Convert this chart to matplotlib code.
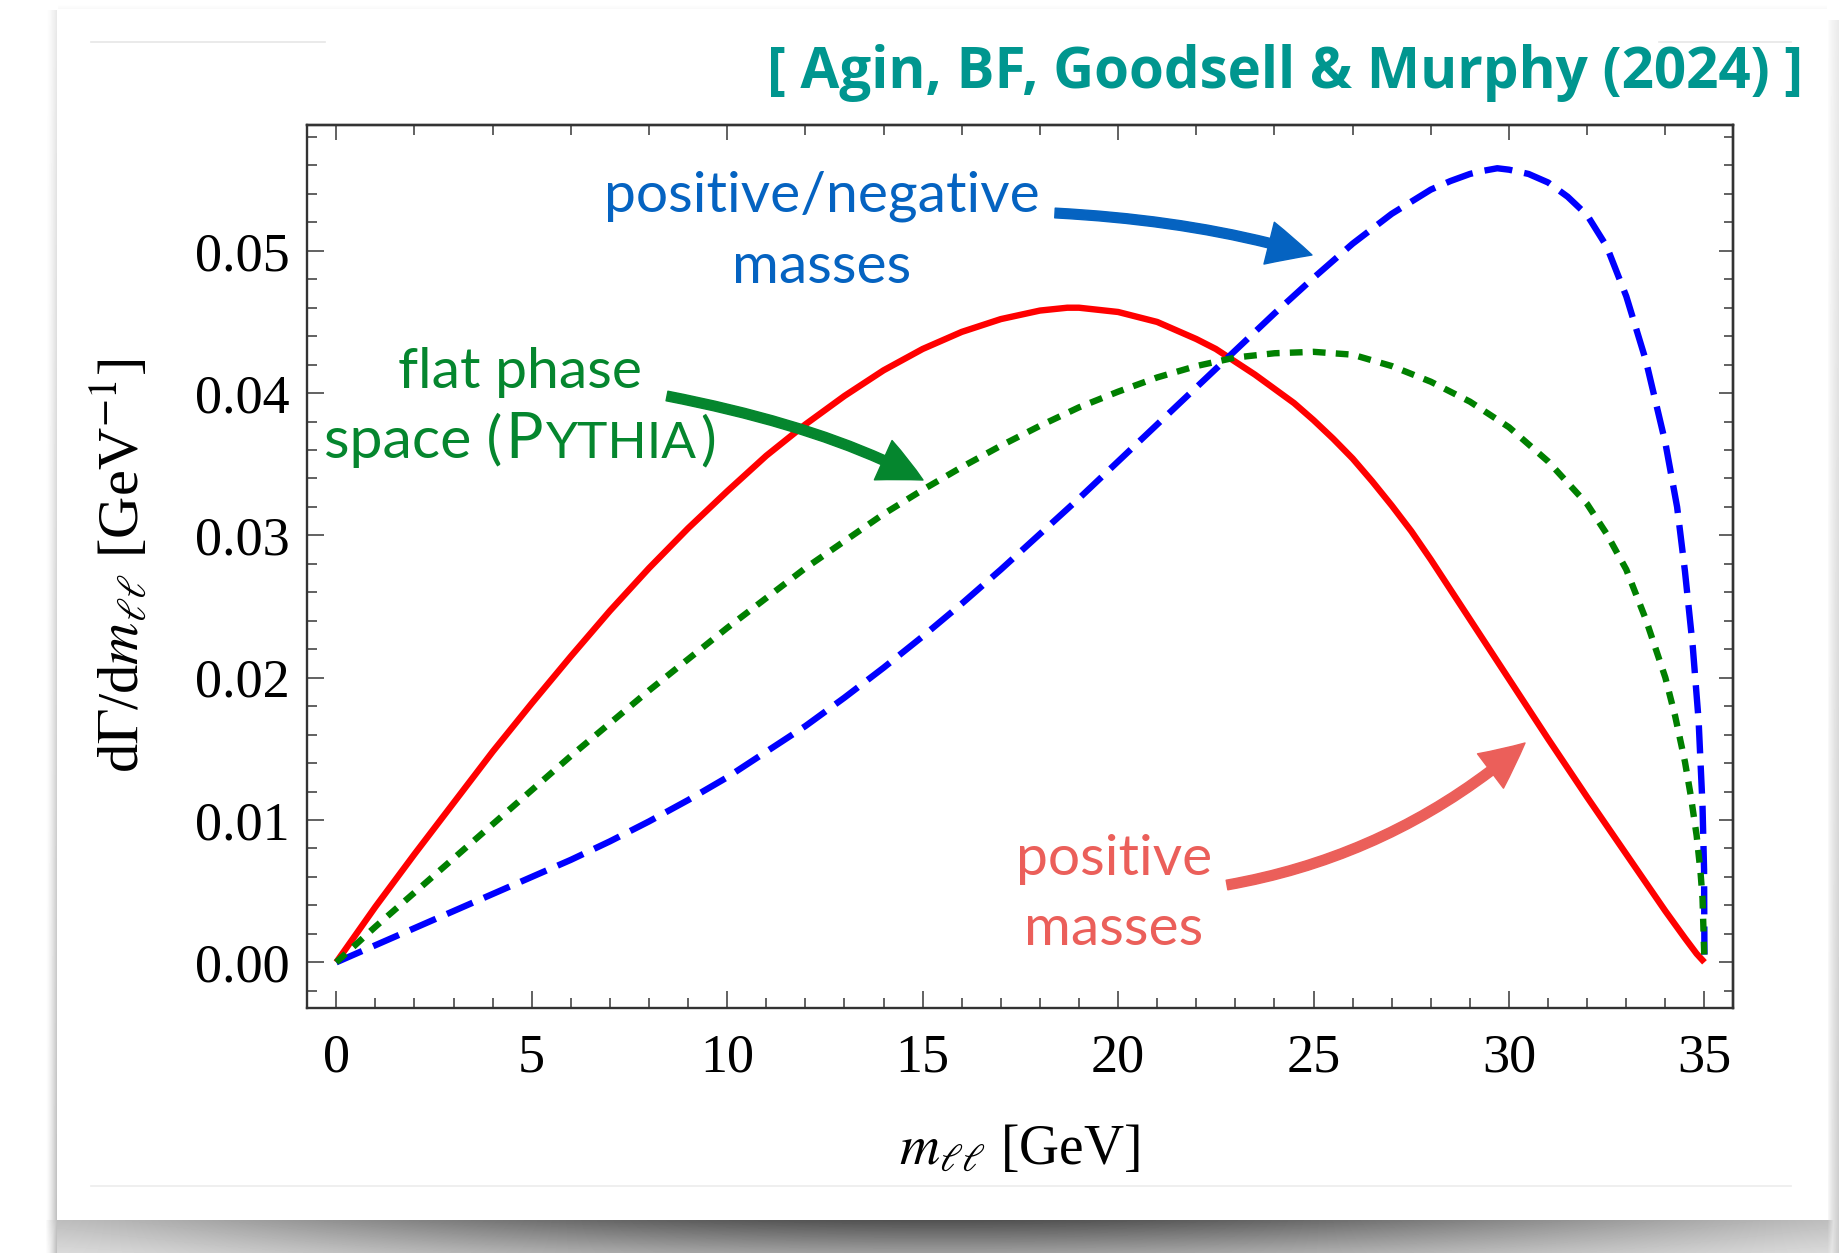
import numpy as np
import matplotlib
matplotlib.use("Agg")
import matplotlib.pyplot as plt
from matplotlib.ticker import FixedLocator, MultipleLocator, FormatStrFormatter, NullFormatter
from matplotlib.patches import FancyArrowPatch, ArrowStyle

# ---------------------------------------------------------------------------
# Dilepton invariant-mass spectra dGamma/dm_ll  [GeV^-1]
# ---------------------------------------------------------------------------
# positive masses (solid red)
m_pos = [0, 1, 2, 3, 4, 5, 6, 7, 8, 9, 10, 11, 12, 13, 14, 15, 16, 17, 18,
         18.7, 19, 20, 21, 22, 22.5, 23, 23.5, 24, 24.5, 25, 25.5, 26, 26.5,
         27, 27.5, 28, 28.5, 29, 29.5, 30, 31, 32, 33, 33.5, 34, 34.5, 34.8, 35]
dgamma_pos = [0.0, 0.0039, 0.0076, 0.0112, 0.0148, 0.0182, 0.0215, 0.0247,
              0.0277, 0.0305, 0.0331, 0.0356, 0.0378, 0.0398, 0.0416, 0.0431,
              0.0443, 0.0452, 0.0458, 0.0460, 0.0460, 0.0457, 0.0450, 0.0438,
              0.0431, 0.0422, 0.0413, 0.0403, 0.0393, 0.0381, 0.0368, 0.0354,
              0.0338, 0.0321, 0.0303, 0.0283, 0.0262, 0.0241, 0.0220, 0.0199,
              0.0157, 0.0116, 0.0076, 0.0056, 0.0036, 0.0017, 0.0006, 0.0]

# flat phase space, PYTHIA (dotted green)
m_flat = [0, 1, 2, 3, 4, 5, 6, 7, 8, 9, 10, 11, 12, 13, 14, 15, 16, 17, 18, 19,
          20, 21, 22, 23, 24, 25, 26, 27, 28, 29, 30, 31, 32, 32.5, 33, 33.5,
          34, 34.25, 34.5, 34.65, 34.8, 34.9, 34.95, 35]
dgamma_flat = [0.0, 0.0025, 0.0049, 0.0073, 0.0097, 0.0121, 0.0145, 0.0168,
               0.0191, 0.0213, 0.0235, 0.0256, 0.0277, 0.0296, 0.0315, 0.0332,
               0.0348, 0.0363, 0.0377, 0.0390, 0.0401, 0.0411, 0.0419, 0.0425,
               0.0428, 0.0429, 0.0427, 0.0419, 0.0408, 0.0394, 0.0376, 0.0352,
               0.0322, 0.0301, 0.0276, 0.0241, 0.0200, 0.0173, 0.0141, 0.0117,
               0.0089, 0.0063, 0.0045, 0.0]

# positive/negative masses (dashed blue)
m_posneg = [0, 1, 2, 3, 4, 5, 6, 7, 8, 9, 10, 11, 12, 13, 14, 15, 16, 17, 18,
            19, 20, 21, 22, 23, 24, 25, 26, 27, 28, 28.5, 29, 29.3, 29.7, 30,
            30.5, 31, 31.5, 32, 32.5, 33, 33.5, 34, 34.3, 34.5, 34.7, 34.85,
            34.95, 34.99, 35]
dgamma_posneg = [0.0, 0.0012, 0.0024, 0.0036, 0.0048, 0.0060, 0.0072, 0.0085,
                 0.0099, 0.0114, 0.0130, 0.0148, 0.0166, 0.0186, 0.0207, 0.0229,
                 0.0252, 0.0276, 0.0301, 0.0326, 0.0352, 0.0378, 0.0404, 0.0430,
                 0.0456, 0.0481, 0.0505, 0.0526, 0.0543, 0.0549, 0.0554, 0.0556,
                 0.0558, 0.0557, 0.0554, 0.0548, 0.0538, 0.0525, 0.0503, 0.0468,
                 0.0423, 0.0365, 0.0320, 0.0275, 0.0222, 0.0170, 0.0110, 0.0065,
                 0.0]

x_ticks = [0, 5, 10, 15, 20, 25, 30, 35]
y_ticks = [0.00, 0.01, 0.02, 0.03, 0.04, 0.05]
x_ticks_top = [0, 10, 20, 30]

W, H = 1840, 1253
plt.rcParams['font.family'] = ['Liberation Serif', 'DejaVu Serif']
plt.rcParams['mathtext.fontset'] = 'stix'

fig = plt.figure(figsize=(W / 100, H / 100), dpi=100)
fig.patch.set_facecolor('white')


def fx(x):
    return x / W


def fy(y):
    return 1 - y / H


# ---------------------------------------------------------------------------
# slide card with soft drop shadow
# ---------------------------------------------------------------------------
bg = fig.add_axes([0, 0, 1, 1], zorder=-10)
bg.set_axis_off()
yy, xx = np.mgrid[0:H, 0:W].astype(float)
card_l, card_r, card_t, card_b = 57, 1827, 9, 1220
dark = np.zeros((H, W))

u = np.clip((xx - card_l) / (card_r - card_l), 0, 1)
t = np.clip((yy - card_b) / (H - card_b), 0, 1)
amp = 0.26 + 0.42 * np.sin(np.pi * u) ** 1.2
edge_fade = np.clip((xx - (card_l - 12)) / 12, 0, 1) * np.clip(((card_r + 12) - xx) / 12, 0, 1)
bottom = (yy >= card_b) * amp * (1 - 0.45 * t) * edge_fade
dark = np.maximum(dark, bottom)

left_band = (xx >= card_l - 12) & (xx < card_l) & (yy > card_t)
left_val = 0.28 * ((xx - (card_l - 12)) / 12) ** 1.5 * (0.35 + 0.65 * yy / H)
dark = np.where(left_band, np.maximum(dark, left_val), dark)

right_band = (xx > card_r) & (yy > card_t + 10)
right_val = 0.22 * np.clip((xx - card_r) / 13, 0, 1) ** 0.7 * (0.4 + 0.6 * yy / H)
dark = np.where(right_band, np.maximum(dark, right_val), dark)

top_band = (yy < card_t) & (yy >= card_t - 5) & (xx > card_l) & (xx < card_r)
dark = np.where(top_band, np.maximum(dark, 0.03 * (yy - (card_t - 5)) / 5), dark)

bg.imshow(1 - dark, cmap='gray', vmin=0, vmax=1, extent=[0, W, H, 0],
          aspect='auto', interpolation='bilinear')
bg.plot([91, 325], [42, 42], color='#e6e6e6', lw=1.2)
bg.plot([1659, 1791], [42, 42], color='#e6e6e6', lw=1.2)
bg.plot([91, 1791], [1186, 1186], color='#ececec', lw=1.2)
bg.set_xlim(0, W)
bg.set_ylim(H, 0)

# ---------------------------------------------------------------------------
# main frame
# ---------------------------------------------------------------------------
ax_l, ax_r, ax_t, ax_b = 306.7, 1733.0, 125.0, 1007.7
ax = fig.add_axes([fx(ax_l), fy(ax_b), (ax_r - ax_l) / W, (ax_b - ax_t) / H])
ax.set_facecolor('white')

lw = 4.6
ax.plot(m_pos, dgamma_pos, color='#ff0000', lw=lw, solid_capstyle='butt',
        solid_joinstyle='round', zorder=3)
ax.plot(m_posneg, dgamma_posneg, color='#0000ff', lw=lw,
        linestyle=(0, (4.4, 1.9)), dash_capstyle='butt', zorder=4)
ax.plot(m_flat, dgamma_flat, color='#008000', lw=lw,
        linestyle=(0, (2.0, 1.6)), dash_capstyle='butt', zorder=5)

ax.set_xlim(-0.757, 35.73)
ax.set_ylim(-0.00319, 0.05884)

ax.xaxis.set_major_locator(FixedLocator(x_ticks))
ax.xaxis.set_minor_locator(MultipleLocator(1))
ax.yaxis.set_major_locator(FixedLocator(y_ticks))
ax.yaxis.set_minor_locator(MultipleLocator(0.002))
ax.yaxis.set_major_formatter(FormatStrFormatter('%.2f'))
ax.xaxis.set_major_formatter(FormatStrFormatter('%d'))

tick_col = '#555555'
ax.tick_params(which='both', direction='in', top=False, right=False,
               color=tick_col, width=1.3, labelsize=39, labelcolor='black')
ax.tick_params(axis='x', which='major', length=12.5, pad=18)
ax.tick_params(axis='x', which='minor', length=7.5)
ax.tick_params(axis='y', which='major', length=12.5, pad=12)
ax.tick_params(axis='y', which='minor', length=7.5)
for sp in ax.spines.values():
    sp.set_color('#333333')
    sp.set_linewidth(1.7)

top = ax.secondary_xaxis('top')
top.xaxis.set_major_locator(FixedLocator(x_ticks_top))
top.xaxis.set_minor_locator(MultipleLocator(2))
top.xaxis.set_major_formatter(NullFormatter())
top.tick_params(which='both', direction='in', color=tick_col, width=1.3)
top.tick_params(which='major', length=11)
top.tick_params(which='minor', length=7)
top.spines['top'].set_color('#333333')
top.spines['top'].set_linewidth(1.7)

right = ax.secondary_yaxis('right')
right.yaxis.set_major_locator(FixedLocator(y_ticks))
right.yaxis.set_minor_locator(MultipleLocator(0.002))
right.yaxis.set_major_formatter(NullFormatter())
right.tick_params(which='both', direction='in', color=tick_col, width=1.3)
right.tick_params(which='major', length=10)
right.tick_params(which='minor', length=6.5)
right.spines['right'].set_color('#333333')
right.spines['right'].set_linewidth(1.7)

ax.set_xlabel(r'$m_{\ell\ell}$ [GeV]', fontsize=40, va='center')
ax.xaxis.set_label_coords(0.5, -(1150 - ax_b) / (ax_b - ax_t))
ax.set_ylabel(r'd$\mathrm{\Gamma}$/d$m_{\ell\ell}$ [GeV$^{-1}$]', fontsize=42,
              va='center')
ax.yaxis.set_label_coords((121 - ax_l) / (ax_r - ax_l), 0.5)

# ---------------------------------------------------------------------------
# header and annotations
# ---------------------------------------------------------------------------
sans = ['Lato', 'DejaVu Sans']
fig.text(fx(1803), fy(88), '[ Agin, BF, Goodsell & Murphy (2024) ]',
         ha='right', va='baseline', fontsize=40.7, fontweight='bold',
         color='#00968f', family=['Open Sans', 'DejaVu Sans'])

blue_txt = '#0563c1'
green_txt = '#05862e'
red_txt = '#eb5f5a'
lab_size = 41

fig.text(fx(822), fy(212), 'positive/negative', ha='center', va='baseline',
         fontsize=lab_size, color=blue_txt, family=sans)
fig.text(fx(822), fy(283), 'masses', ha='center', va='baseline',
         fontsize=lab_size, color=blue_txt, family=sans)

fig.text(fx(520), fy(388), 'flat phase', ha='center', va='baseline',
         fontsize=lab_size, color=green_txt, family=sans)

# "space (PYTHIA)" with the program name in small capitals
renderer = fig.canvas.get_renderer()
runs = [('space (', 42.5, 0.0), ('P', 45, 3.0), ('YTHIA', 37, 3.0), (')', 42.5, 3.0)]
pieces = []
total = 0.0
for s, size, gap in runs:
    tx = fig.text(0, fy(458), s, ha='left', va='baseline', fontsize=size,
                  color=green_txt, family=sans)
    w = tx.get_window_extent(renderer).width
    pieces.append((tx, w, gap))
    total += w + gap
xpos = 520 - total / 2
for tx, w, gap in pieces:
    xpos += gap
    tx.set_x(fx(xpos))
    xpos += w

fig.text(fx(1114), fy(875), 'positive', ha='center', va='baseline',
         fontsize=lab_size, color=red_txt, family=sans)
fig.text(fx(1114), fy(945), 'masses', ha='center', va='baseline',
         fontsize=lab_size, color=red_txt, family=sans)


def curved_arrow(p0, p1, ang0, ang1, color):
    style = ArrowStyle.Simple(head_length=32, head_width=31, tail_width=7)
    arr = FancyArrowPatch(posA=(fx(p0[0]), fy(p0[1])), posB=(fx(p1[0]), fy(p1[1])),
                          transform=fig.transFigure, arrowstyle=style,
                          connectionstyle=f'angle3,angleA={ang0},angleB={ang1}',
                          color=color, shrinkA=0, shrinkB=0, mutation_scale=1,
                          zorder=6)
    fig.add_artist(arr)


curved_arrow((1055, 213), (1312, 255), -3, -17, blue_txt)
curved_arrow((667, 396), (923, 480), -11, -29, green_txt)
curved_arrow((1227, 885), (1525, 743), 10, 41, red_txt)

fig.savefig('out.png', dpi=100, facecolor='white')
